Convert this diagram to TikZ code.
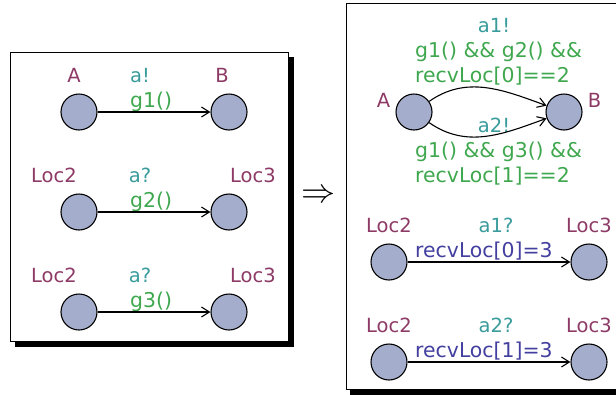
\RequirePackage{fix-cm}
\documentclass[tikz,border=0pt]{standalone}
\usepackage{fontspec}
\setmainfont{DejaVu Sans}
\usetikzlibrary{positioning, arrows.meta}

\definecolor{locname}{HTML}{8E3A66}
\definecolor{syncc}{HTML}{3A9C9C}
\definecolor{guardc}{HTML}{3FA84F}
\definecolor{updc}{HTML}{4340A0}
\definecolor{locfill}{HTML}{A4AECC}

\tikzset{
  loc/.style={circle, draw, line width=1.1pt, fill=locfill, minimum size=36pt, inner sep=0pt},
  trans/.style={line width=1.1pt, -{Straight Barb[length=8pt, width=10pt, line width=1.1pt]}},
  lname/.style={text=locname, inner sep=0pt, anchor=base},
  sync/.style={text=syncc, inner sep=0pt, anchor=base},
  guard/.style={text=guardc, inner sep=0pt, anchor=base west, align=left, font=\fontsize{20.4}{25}\selectfont},
  upd/.style={text=updc, inner sep=0pt, anchor=base west, font=\fontsize{20.4}{25}\selectfont},
  panel/.style={draw, line width=0.7pt, fill=white},
}

\begin{document}
\begin{tikzpicture}[x=1pt, y=-1pt, font=\fontsize{19.5}{25}\selectfont]
  \useasboundingbox (0,0) rectangle (616,394);

  % left panel
  \fill (15,57) rectangle (294,347);
  \draw[panel] (10,52) rectangle (288,341);

  \node[loc] (a) at (79,112) {};
  \node[loc] (b) at (229,112) {};
  \node[lname] (an) at (74,82) {A};
  \node[lname] (bn) at (222,82) {B};
  \node[sync] (as) at (140,82) {a!};
  \node[guard] (ag) at (130,107) {g1()};
  \draw[trans] (a) -- (b);

  \node[loc] (c) at (79,212) {};
  \node[loc] (d) at (229,212) {};
  \node[lname] (cn) at (54,182) {Loc2};
  \node[lname] (dn) at (253,182) {Loc3};
  \node[sync] (cs) at (140,182) {a?};
  \node[guard] (cg) at (130,207) {g2()};
  \draw[trans] (c) -- (d);

  \node[loc] (e) at (79,312) {};
  \node[loc] (f) at (229,312) {};
  \node[lname] (en) at (54,282) {Loc2};
  \node[lname] (fn) at (253,282) {Loc3};
  \node[sync] (es) at (140,282) {a?};
  \node[guard] (eg) at (130,307) {g3()};
  \draw[trans] (e) -- (f);

  % arrow between panels
  \node (imp) at (318,196) {\fontsize{34}{40}\selectfont$\Rightarrow$};

  % right panel
  \fill (350,8) rectangle (622,395);
  \draw[panel] (346,3) rectangle (618,389);

  \node[loc] (ra) at (414,112) {};
  \node[loc] (rb) at (564,112) {};
  \node[lname, left=5pt of ra, anchor=base east, yshift=5pt] (ran) {A};
  \node[lname, right=5pt of rb, anchor=base west, yshift=5pt] (rbn) {B};
  \node[sync] (r1s) at (494,32) {a1!};
  \node[guard] (r1g) at (415,82) {g1() \&\& g2() \&\&\\recvLoc[0]==2};
  \node[sync] (r2s) at (494,132) {a2!};
  \node[guard] (r2g) at (415,182) {g1() \&\& g3() \&\&\\recvLoc[1]==2};
  \draw[trans] (ra) to[out=35, in=160] (rb);
  \draw[trans] (ra) to[out=-35, in=200] (rb);

  \node[loc] (rc) at (389,262) {};
  \node[loc] (rd) at (589,262) {};
  \node[lname] (rcn) at (389,232) {Loc2};
  \node[lname] (rdn) at (589,232) {Loc3};
  \node[sync] (rcs) at (496,232) {a1?};
  \node[upd] (rcu) at (415,257) {recvLoc[0]=3};
  \draw[trans] (rc) -- (rd);

  \node[loc] (re) at (389,362) {};
  \node[loc] (rf) at (589,362) {};
  \node[lname] (ren) at (389,332) {Loc2};
  \node[lname] (rfn) at (589,332) {Loc3};
  \node[sync] (res) at (496,332) {a2?};
  \node[upd] (reu) at (415,357) {recvLoc[1]=3};
  \draw[trans] (re) -- (rf);
\end{tikzpicture}
\end{document}
